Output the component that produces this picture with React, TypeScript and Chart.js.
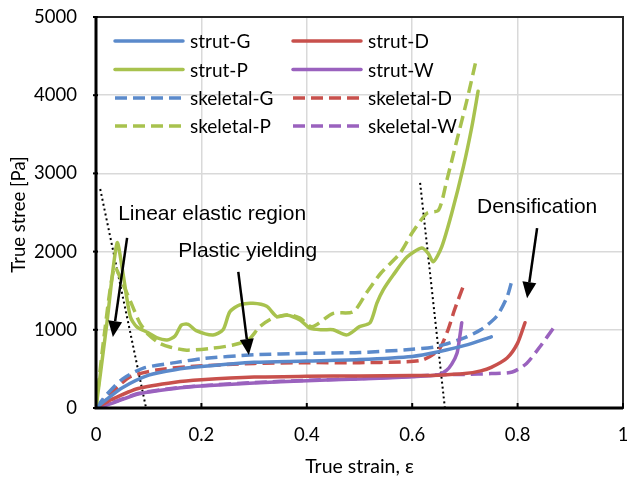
import React, { useEffect, useRef } from "react";
import { Chart, registerables } from "chart.js";

Chart.register(...registerables);

// ---------- data ----------
const strutG_x = [0, 0.02, 0.05, 0.1, 0.15, 0.2, 0.3, 0.4, 0.5, 0.6, 0.65, 0.7, 0.75];
const strutG_y = [0, 110, 260, 420, 490, 530, 585, 600, 620, 660, 720, 800, 910];

const strutD_x = [0, 0.03, 0.08, 0.15, 0.2, 0.3, 0.4, 0.5, 0.6, 0.65, 0.7, 0.73, 0.75, 0.78, 0.8, 0.814];
const strutD_y = [0, 110, 250, 330, 360, 395, 405, 410, 415, 420, 440, 475, 520, 640, 830, 1090];

const strutP_x = [0, 0.02, 0.04, 0.051, 0.065, 0.077, 0.1, 0.115, 0.135, 0.15, 0.162, 0.175, 0.19, 0.222, 0.241, 0.254, 0.273, 0.298, 0.324, 0.343, 0.362, 0.387, 0.406, 0.43, 0.45, 0.476, 0.5, 0.52, 0.533, 0.545, 0.564, 0.59, 0.618, 0.63, 0.64, 0.656, 0.675, 0.697, 0.713, 0.725];
const strutP_y = [0, 1050, 2110, 1730, 1170, 1040, 960, 900, 870, 920, 1060, 1070, 990, 935, 1000, 1230, 1320, 1340, 1300, 1170, 1190, 1125, 1020, 1000, 1000, 935, 1040, 1090, 1340, 1510, 1700, 1930, 2045, 1980, 1870, 2060, 2490, 3080, 3590, 4050];

const strutW_x = [0, 0.03, 0.08, 0.15, 0.2, 0.3, 0.4, 0.5, 0.6, 0.65, 0.665, 0.675, 0.685, 0.69, 0.694];
const strutW_y = [0, 60, 180, 250, 280, 320, 350, 370, 400, 425, 480, 560, 700, 900, 1090];

const skelG_x = [0, 0.02, 0.05, 0.09, 0.15, 0.2, 0.3, 0.4, 0.5, 0.6, 0.65, 0.7, 0.73, 0.76, 0.78, 0.79];
const skelG_y = [0, 170, 370, 510, 580, 630, 680, 700, 710, 750, 790, 900, 1000, 1170, 1420, 1650];

const skelD_x = [0, 0.03, 0.065, 0.115, 0.18, 0.3, 0.4, 0.5, 0.58, 0.62, 0.65, 0.668, 0.68, 0.697];
const skelD_y = [0, 200, 400, 485, 530, 570, 580, 580, 590, 615, 740, 1000, 1250, 1560];

const skelP_x = [0, 0.015, 0.035, 0.05, 0.07, 0.083, 0.1, 0.12, 0.14, 0.172, 0.222, 0.26, 0.289, 0.311, 0.336, 0.368, 0.387, 0.41, 0.45, 0.488, 0.514, 0.54, 0.577, 0.6, 0.628, 0.65, 0.666, 0.685, 0.704, 0.72];
const skelP_y = [0, 900, 1800, 1600, 1290, 1090, 935, 830, 780, 740, 765, 805, 870, 1040, 1150, 1190, 1150, 1040, 1210, 1230, 1480, 1720, 1980, 2240, 2490, 2530, 2920, 3430, 3940, 4410];

const skelW_x = [0, 0.03, 0.08, 0.15, 0.2, 0.3, 0.4, 0.5, 0.6, 0.65, 0.7, 0.75, 0.79, 0.817, 0.842, 0.87];
const skelW_y = [0, 65, 185, 255, 285, 325, 355, 375, 405, 425, 430, 440, 460, 570, 780, 1040];

const guide1_x = [0.008, 0.095];
const guide1_y = [2800, 0];
const guide2_x = [0.615, 0.662];
const guide2_y = [2880, 0];

const seriesNames = ["strut-G", "strut-D", "strut-P", "strut-W", "skeletal-G", "skeletal-D", "skeletal-P", "skeletal-W"];

const annotationTexts = ["Linear elastic region", "Plastic yielding", "Densification"];
const annotationX = [0.042, 0.156, 0.723];
const annotationY = [2404, 1931, 2494];

const arrowFromX = [0.059, 0.27, 0.837];
const arrowFromY = [2175, 1740, 2300];
const arrowToX = [0.032, 0.29, 0.818];
const arrowToY = [908, 678, 1405];

const xTicks = [0, 0.2, 0.4, 0.6, 0.8, 1];
const yTicks = [0, 1000, 2000, 3000, 4000, 5000];

const xTitle = "True strain, ε";
const yTitle = "True stree [Pa]";

// ---------- style ----------
const BLUE = "#5B8ACB";
const RED = "#C8504C";
const GREEN = "#A8C24E";
const PURPLE = "#9A62BE";
const TICK_FONT = "Lato, 'Open Sans', sans-serif";
const NOTE_FONT = "'Liberation Sans', Arial, sans-serif";
const DASH = [12, 6];

const pts = (xs: number[], ys: number[]) => xs.map((x, i) => ({ x, y: ys[i] }));

export default function App() {
  const ref = useRef<HTMLCanvasElement | null>(null);

  useEffect(() => {
    document.body.style.margin = "0";
    const canvas = ref.current;
    if (!canvas) return;

    const colors = [BLUE, RED, GREEN, PURPLE, BLUE, RED, GREEN, PURPLE];
    const xsAll = [strutG_x, strutD_x, strutP_x, strutW_x, skelG_x, skelD_x, skelP_x, skelW_x];
    const ysAll = [strutG_y, strutD_y, strutP_y, strutW_y, skelG_y, skelD_y, skelP_y, skelW_y];

    const seriesSets = seriesNames.map((name, i) => ({
      label: name,
      data: pts(xsAll[i], ysAll[i]),
      borderColor: colors[i],
      backgroundColor: colors[i],
      borderWidth: 3.5,
      borderDash: i >= 4 ? DASH : [],
      borderCapStyle: i >= 4 ? "butt" : "round",
      borderJoinStyle: "round",
      pointRadius: 0,
      showLine: true,
      tension: 0.25,
      fill: false,
    }));

    const guideSets = [pts(guide1_x, guide1_y), pts(guide2_x, guide2_y)].map((d, i) => ({
      label: "guide" + i,
      data: d,
      borderColor: "#000",
      borderWidth: 2,
      borderDash: [2, 3],
      pointRadius: 0,
      showLine: true,
      fill: false,
    }));

    const overlay = {
      id: "overlay",
      afterDraw(chart: any) {
        const ctx = chart.ctx;
        const xs = chart.scales.x;
        const ys = chart.scales.y;
        const a = chart.chartArea;
        ctx.save();

        // frame
        ctx.strokeStyle = "#262626";
        ctx.lineWidth = 2;
        ctx.strokeRect(a.left, a.top, a.right - a.left, a.bottom - a.top);
        ctx.strokeStyle = "#000";
        ctx.lineWidth = 3;
        ctx.beginPath();
        ctx.moveTo(a.left, a.top);
        ctx.lineTo(a.left, a.bottom);
        ctx.lineTo(a.right, a.bottom);
        ctx.stroke();

        // tick marks
        ctx.lineWidth = 2;
        xTicks.forEach((t) => {
          const px = xs.getPixelForValue(t);
          ctx.beginPath();
          ctx.moveTo(px, a.bottom);
          ctx.lineTo(px, a.bottom - 5);
          ctx.stroke();
        });
        yTicks.forEach((t) => {
          const py = ys.getPixelForValue(t);
          ctx.beginPath();
          ctx.moveTo(a.left - 3, py);
          ctx.lineTo(a.left + 2, py);
          ctx.stroke();
        });

        // legend
        ctx.font = "19px " + TICK_FONT;
        ctx.textBaseline = "middle";
        ctx.textAlign = "left";
        const colX = [a.left + 19, a.left + 197];
        const rowY = [41, 69.5, 98, 126];
        const order = [[0, 1], [2, 3], [4, 5], [6, 7]];
        order.forEach((rowIdx, row) => {
          rowIdx.forEach((idx, col) => {
            const lx = colX[col];
            const ly = a.top + rowY[row] - 17;
            ctx.strokeStyle = colors[idx];
            ctx.lineWidth = 3.5;
            ctx.lineCap = idx >= 4 ? "butt" : "round";
            ctx.setLineDash(idx >= 4 ? DASH : []);
            ctx.beginPath();
            ctx.moveTo(lx, ly);
            ctx.lineTo(lx + 68, ly);
            ctx.stroke();
            ctx.setLineDash([]);
            ctx.fillStyle = "#000";
            ctx.fillText(seriesNames[idx], lx + 75, ly + 1);
          });
        });

        // annotations
        ctx.font = "21px " + NOTE_FONT;
        ctx.textBaseline = "alphabetic";
        ctx.fillStyle = "#000";
        annotationTexts.forEach((t, i) => {
          ctx.fillText(t, xs.getPixelForValue(annotationX[i]), ys.getPixelForValue(annotationY[i]));
        });

        // arrows
        ctx.strokeStyle = "#000";
        ctx.fillStyle = "#000";
        ctx.lineWidth = 2.5;
        ctx.lineCap = "butt";
        arrowFromX.forEach((_, i) => {
          const x1 = xs.getPixelForValue(arrowFromX[i]);
          const y1 = ys.getPixelForValue(arrowFromY[i]);
          const x2 = xs.getPixelForValue(arrowToX[i]);
          const y2 = ys.getPixelForValue(arrowToY[i]);
          const ang = Math.atan2(y2 - y1, x2 - x1);
          const len = 16;
          const half = 7;
          const bx = x2 - len * Math.cos(ang);
          const by = y2 - len * Math.sin(ang);
          ctx.beginPath();
          ctx.moveTo(x1, y1);
          ctx.lineTo(bx, by);
          ctx.stroke();
          ctx.beginPath();
          ctx.moveTo(x2, y2);
          ctx.lineTo(bx + half * Math.sin(ang), by - half * Math.cos(ang));
          ctx.lineTo(bx - half * Math.sin(ang), by + half * Math.cos(ang));
          ctx.closePath();
          ctx.fill();
        });

        // axis titles
        ctx.textAlign = "center";
        ctx.textBaseline = "middle";
        ctx.font = "19.5px " + TICK_FONT;
        ctx.fillText(xTitle, (a.left + a.right) / 2, 467);
        ctx.font = "18.5px " + TICK_FONT;
        ctx.save();
        ctx.translate(19, (a.top + a.bottom) / 2 + 2);
        ctx.rotate(-Math.PI / 2);
        ctx.fillText(yTitle, 0, 0);
        ctx.restore();

        ctx.restore();
      },
    };

    const chart = new Chart(canvas, {
      type: "scatter",
      data: { datasets: [...seriesSets, ...guideSets] as any },
      options: {
        animation: false,
        responsive: false,
        maintainAspectRatio: false,
        layout: { padding: { top: 17, right: 4, left: 0, bottom: 0 } },
        plugins: { legend: { display: false }, tooltip: { enabled: false } },
        scales: {
          x: {
            type: "linear",
            min: 0,
            max: 1,
            afterFit: (s: any) => {
              s.height = 70;
              s.paddingLeft = 0;
              s.paddingRight = 0;
            },
            afterBuildTicks: (s: any) => {
              s.ticks = xTicks.map((v) => ({ value: v }));
            },
            ticks: {
              padding: 16,
              color: "#000",
              font: { size: 18.5, family: TICK_FONT },
              callback: (v: any) => String(v),
              maxRotation: 0,
            },
            grid: { color: "#D9D9D9", lineWidth: 1.5, drawTicks: false },
            border: { display: false },
          },
          y: {
            type: "linear",
            min: 0,
            max: 5000,
            afterFit: (s: any) => {
              s.width = 96;
              s.paddingTop = 0;
              s.paddingBottom = 0;
            },
            afterBuildTicks: (s: any) => {
              s.ticks = yTicks.map((v) => ({ value: v }));
            },
            ticks: {
              padding: 19,
              color: "#000",
              font: { size: 18.5, family: TICK_FONT },
              callback: (v: any) => String(v),
            },
            grid: { color: "#D9D9D9", lineWidth: 1.5, drawTicks: false },
            border: { display: false },
          },
        },
      },
      plugins: [overlay],
    });

    return () => chart.destroy();
  }, []);

  return (
    <div style={{ width: 627, height: 478, background: "#fff" }}>
      <canvas ref={ref} width={627} height={478} style={{ display: "block" }} />
    </div>
  );
}
